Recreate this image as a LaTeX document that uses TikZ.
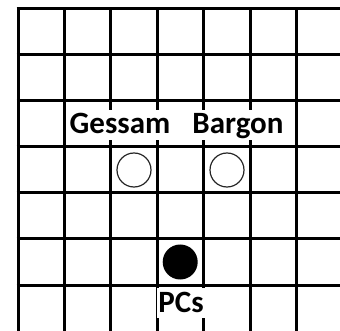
\documentclass[tikz,border=0pt]{standalone}
\usepackage{fontspec}
\setmainfont{Carlito}
\begin{document}
\begin{tikzpicture}[x=1pt,y=-1pt,
  gridline/.style={line width=3pt, black},
  lbl/.style={fill=white, inner xsep=1.5pt, inner ysep=3pt, text height=21pt, text depth=3pt, anchor=base, font=\fontsize{31}{31}\selectfont\bfseries},
  opencirc/.style={circle, draw=black!85, line width=1.2pt, minimum size=34pt, inner sep=0pt},
  filledcirc/.style={circle, fill=black, minimum size=35pt, inner sep=0pt}]
\useasboundingbox (0,0) rectangle (340,331);
\foreach \i in {0,...,6} \draw[gridline] (18+46.4*\i, 7.5) -- (18+46.4*\i, 340);
\foreach \j in {0,...,6} \draw[gridline] (16.5, 9+46*\j) -- (350, 9+46*\j);
\node[opencirc] (gc) at (134,170) {};
\node[opencirc] (bc) at (227,170) {};
\node[filledcirc] (pc) at (180.2,262) {};
\node[lbl] (gessam) at (120,134) {Gessam};
\node[lbl] (bargon) at (238,134) {Bargon};
\node[lbl] (pcs) at (181,312) {PCs};
\end{tikzpicture}
\end{document}
